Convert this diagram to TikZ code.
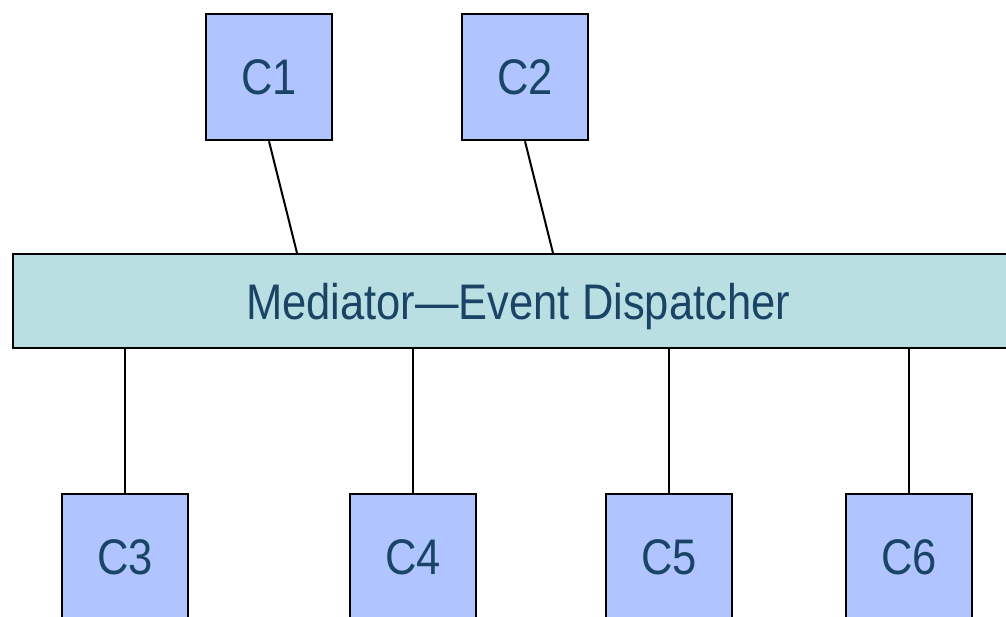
\documentclass[tikz,border=0pt]{standalone}
\usepackage{fontspec}
\setmainfont[FakeStretch=0.87]{Liberation Sans}
\usetikzlibrary{calc}
\definecolor{compfill}{HTML}{B0C4FF}
\definecolor{busfill}{HTML}{B9DFE2}
\definecolor{labelblue}{HTML}{1A4466}
\begin{document}
\begin{tikzpicture}[x=1pt,y=-1pt,
  comp/.style={draw=black,line width=2.6pt,fill=compfill,minimum size=126pt,
    inner sep=0pt,text=labelblue,font=\fontsize{50}{60}\selectfont},
  bus/.style={draw=black,line width=2.6pt,fill=busfill,minimum width=1010pt,
    minimum height=94pt,inner sep=0pt,text depth=0pt,text=labelblue,
    font=\fontsize{50}{60}\selectfont},
  wire/.style={draw=black,line width=2pt}]
\useasboundingbox (0,0) rectangle (1006,617);
% mediator bar
\node[bus] (bar) at (518,301) {Mediator---Event Dispatcher};
% components
\node[comp] (C1) at (269,77) {C1};
\node[comp] (C2) at (525,77) {C2};
\node[comp] (C3) at (125,557) {C3};
\node[comp] (C4) at (413,557) {C4};
\node[comp] (C5) at (669,557) {C5};
\node[comp] (C6) at (909,557) {C6};
% attachment points on the top edge of the bar
\coordinate (t1) at (297,253);
\coordinate (t2) at (553,253);
% connectors
\draw[wire] (C1.south) -- (t1);
\draw[wire] (C2.south) -- (t2);
\foreach \c in {C3,C4,C5,C6}
  \draw[wire] (bar.south -| \c.north) -- (\c.north);
\end{tikzpicture}
\end{document}
